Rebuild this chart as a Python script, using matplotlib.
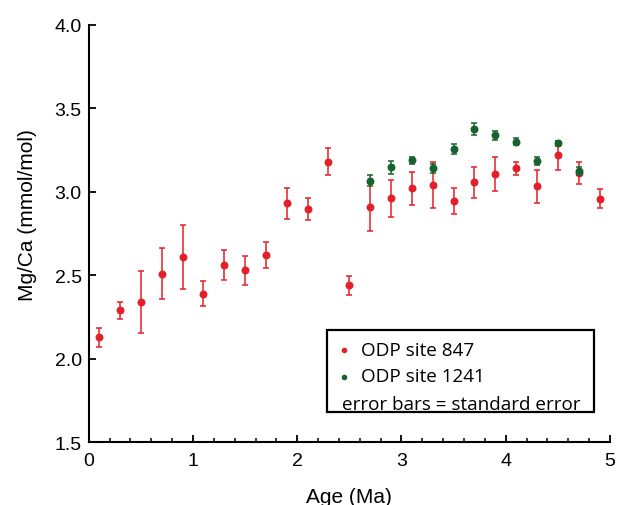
import matplotlib
matplotlib.use("Agg")
import matplotlib.pyplot as plt
from matplotlib.patches import Rectangle
from matplotlib.ticker import MultipleLocator, FormatStrFormatter

# ODP site 847
age_847 = [0.1, 0.3, 0.5, 0.7, 0.9, 1.1, 1.3, 1.5, 1.7, 1.9, 2.1, 2.3, 2.5,
           2.7, 2.9, 3.1, 3.3, 3.5, 3.7, 3.9, 4.1, 4.3, 4.5, 4.7, 4.9]
mgca_847 = [2.13, 2.29, 2.34, 2.51, 2.61, 2.39, 2.56, 2.53, 2.62, 2.93, 2.895, 3.18, 2.44,
            2.91, 2.96, 3.02, 3.04, 2.945, 3.056, 3.106, 3.14, 3.032, 3.218, 3.112, 2.958]
err_847 = [0.057, 0.05, 0.188, 0.152, 0.19, 0.076, 0.09, 0.087, 0.077, 0.094, 0.065, 0.081, 0.057,
           0.144, 0.113, 0.10, 0.14, 0.077, 0.095, 0.10, 0.038, 0.099, 0.086, 0.065, 0.056]

# ODP site 1241
age_1241 = [2.7, 2.9, 3.1, 3.3, 3.5, 3.7, 3.9, 4.1, 4.3, 4.5, 4.7]
mgca_1241 = [3.066, 3.146, 3.188, 3.142, 3.258, 3.375, 3.338, 3.300, 3.182, 3.290, 3.124]
err_1241 = [0.034, 0.04, 0.022, 0.027, 0.03, 0.037, 0.026, 0.023, 0.023, 0.015, 0.022]

legend_labels = ["ODP site 847", "ODP site 1241", "error bars = standard error"]
red = "#e3202a"
green = "#17622f"

W, H = 617, 506
fig = plt.figure(figsize=(6.17, 5.06), dpi=100)
ax = fig.add_axes([88.7/W, 1-443.3/H, (610-88.7)/W, (443.3-25.7)/H])

ax.errorbar(age_847, mgca_847, yerr=err_847, fmt='o', color=red, ecolor=red,
            markersize=4.7, elinewidth=1.1, capsize=2.5, capthick=1.1, zorder=3)
ax.errorbar(age_1241, mgca_1241, yerr=err_1241, fmt='o', color=green, ecolor=green,
            markersize=4.7, elinewidth=1.1, capsize=2.5, capthick=1.1, zorder=4)

ax.set_xlim(0, 5)
ax.set_ylim(1.5, 4.0)
ax.xaxis.set_major_locator(MultipleLocator(1))
ax.xaxis.set_minor_locator(MultipleLocator(0.2))
ax.yaxis.set_major_locator(MultipleLocator(0.5))
ax.yaxis.set_major_formatter(FormatStrFormatter('%.1f'))

for s in ['top', 'right']:
    ax.spines[s].set_visible(False)
for s in ['left', 'bottom']:
    ax.spines[s].set_linewidth(1.5)

ax.tick_params(axis='both', which='major', direction='in', length=5, width=1.3)
ax.tick_params(axis='y', which='major', pad=5)
ax.tick_params(axis='x', which='major', pad=7)
ax.tick_params(axis='x', which='minor', direction='in', length=3, width=1.1)
for lab in ax.get_xticklabels() + ax.get_yticklabels():
    lab.set_fontfamily('Liberation Sans')
    lab.set_fontsize(14)

ax.set_xlabel("Age (Ma)", fontfamily='Liberation Sans', fontsize=15, labelpad=13)
ax.set_ylabel("Mg/Ca (mmol/mol)", fontfamily='Liberation Sans', fontsize=15)
ax.yaxis.set_label_coords(-0.099, 0.547)

# legend box
fig.patches.append(Rectangle((327/W, 1-413/H), (594-327)/W, (413-331)/H,
                             transform=fig.transFigure, fill=False,
                             edgecolor='black', linewidth=1.6, zorder=10))
rows_y = [350.5, 377.5, 404.5]
fig.lines.append(plt.Line2D([344/W], [1-rows_y[0]/H], marker='o', color=red,
                            markersize=3, transform=fig.transFigure))
fig.lines.append(plt.Line2D([344/W], [1-rows_y[1]/H], marker='o', color=green,
                            markersize=3, transform=fig.transFigure))
fig.text(361/W, 1-rows_y[0]/H, legend_labels[0], family='Open Sans', fontsize=13.6,
         va='center', ha='left')
fig.text(361/W, 1-rows_y[1]/H, legend_labels[1], family='Open Sans', fontsize=13.6,
         va='center', ha='left')
fig.text(342/W, 1-rows_y[2]/H, legend_labels[2], family='Open Sans', fontsize=13.6,
         va='center', ha='left')

fig.savefig("out.png", dpi=100)
